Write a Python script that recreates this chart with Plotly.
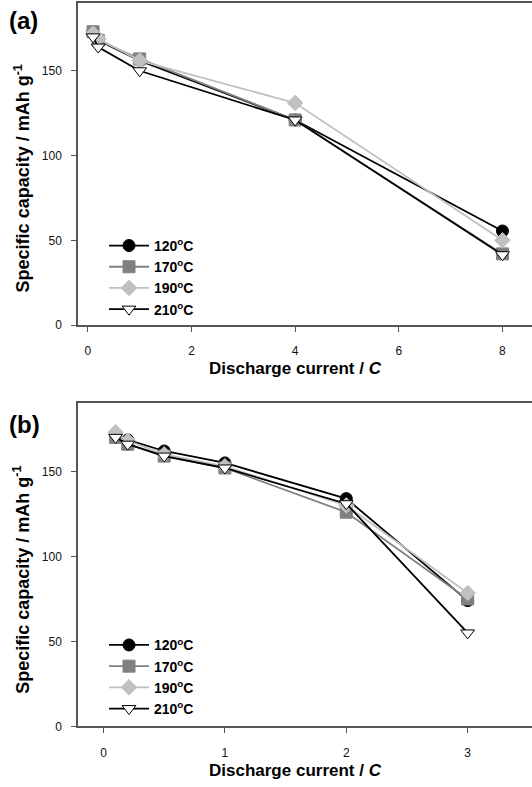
import plotly.graph_objects as go

# ---- data ----
series_names = ["120<sup>o</sup>C", "170<sup>o</sup>C", "190<sup>o</sup>C", "210<sup>o</sup>C"]

x_a = [0.1, 0.2, 1, 4, 8]
a_120 = [173, 168, 156, 121, 55.5]
a_170 = [173, 168, 157, 121, 42]
a_190 = [172, 169, 156, 131, 50]
a_210 = [170, 164, 150, 121, 41.5]

x_b = [0.1, 0.2, 0.5, 1, 2, 3]
b_120 = [172, 168.5, 162, 155, 134, 74]
b_170 = [170, 166, 159, 152, 126, 75]
b_190 = [173, 168, 160, 153, 130, 78.5]
b_210 = [170, 166, 159, 152, 131, 55]

yticks = [0, 50, 100, 150]
xticks_a = [0, 2, 4, 6, 8]
xticks_b = [0, 1, 2, 3]

styles = [
    dict(symbol="circle", mcolor="black", lcolor="black", mline="black"),
    dict(symbol="square", mcolor="#808080", lcolor="#808080", mline="#808080"),
    dict(symbol="diamond", mcolor="#c0c0c0", lcolor="#c0c0c0", mline="#c0c0c0"),
    dict(symbol="triangle-down", mcolor="white", lcolor="black", mline="black"),
]

W, H = 532, 787
def py(p):
    return 1 - p / H

fig = go.Figure()

for i, (ys, st) in enumerate(zip([a_120, a_170, a_190, a_210], styles)):
    fig.add_trace(go.Scatter(
        x=x_a, y=ys, mode="lines+markers", name=series_names[i],
        xaxis="x", yaxis="y", legend="legend",
        line=dict(color=st["lcolor"], width=1.8),
        marker=dict(symbol=st["symbol"], color=st["mcolor"], size=12,
                    line=dict(color=st["mline"], width=1)),
    ))
for i, (ys, st) in enumerate(zip([b_120, b_170, b_190, b_210], styles)):
    fig.add_trace(go.Scatter(
        x=x_b, y=ys, mode="lines+markers", name=series_names[i],
        xaxis="x2", yaxis="y2", legend="legend2",
        line=dict(color=st["lcolor"], width=1.8),
        marker=dict(symbol=st["symbol"], color=st["mcolor"], size=12,
                    line=dict(color=st["mline"], width=1)),
    ))

tickfont = dict(family="Arial, Liberation Sans", size=12, color="#111111")
axcommon = dict(showline=True, linecolor="#555", linewidth=1.5, ticks="outside",
                ticklen=5, tickcolor="#555", tickwidth=1, showgrid=False,
                zeroline=False, tickfont=tickfont)

xdom = [78 / W, 1.0]
legfont = dict(family="Arial, Liberation Sans", size=14, color="black", weight="bold")
fig.update_layout(
    width=W, height=H,
    margin=dict(l=0, r=0, t=0, b=0),
    paper_bgcolor="white", plot_bgcolor="white",
    font=dict(family="Arial, Liberation Sans", color="#111111"),
    xaxis=dict(domain=xdom, range=[-0.19, 8.57], tickvals=xticks_a, anchor="y",
               mirror=True, ticklabelstandoff=9, **axcommon),
    yaxis=dict(domain=[py(328), py(3)], range=[0, 190], tickvals=yticks, anchor="x",
               ticklabelstandoff=7, **axcommon),
    xaxis2=dict(domain=xdom, range=[-0.21, 3.53], tickvals=xticks_b, anchor="y2",
                mirror=True, ticklabelstandoff=9, **axcommon),
    yaxis2=dict(domain=[py(733), py(407)], range=[0, 190], tickvals=yticks, anchor="x2",
                ticklabelstandoff=7, **axcommon),
    legend=dict(x=104 / W, y=py(232), xanchor="left", yanchor="top",
                bgcolor="rgba(0,0,0,0)", tracegroupgap=0, itemwidth=40, font=legfont),
    legend2=dict(x=104 / W, y=py(635), xanchor="left", yanchor="top",
                 bgcolor="rgba(0,0,0,0)", tracegroupgap=0, itemwidth=40, font=legfont),
    showlegend=True,
)

titlefont = dict(family="Arial, Liberation Sans", size=17, color="black", weight="bold")
ytitlefont = dict(family="Arial, Liberation Sans", size=18, color="black", weight="bold")
labfont = dict(family="Arial, Liberation Sans", size=24, color="black", weight="bold")
ytitle = "Specific capacity / mAh g<sup>-1</sup>"
xtitle = "Discharge current / <i>C</i>"
ann = [
    dict(text="(a)", x=7 / W, y=py(21), xanchor="left", yanchor="middle", font=labfont),
    dict(text="(b)", x=7 / W, y=py(428), xanchor="left", yanchor="middle", font=labfont),
    dict(text=ytitle, x=22 / W, y=py(180), textangle=-90, xanchor="center", yanchor="middle", font=ytitlefont),
    dict(text=ytitle, x=22 / W, y=py(585), textangle=-90, xanchor="center", yanchor="middle", font=ytitlefont),
    dict(text=xtitle, x=295 / W, y=py(372), xanchor="center", yanchor="middle", font=titlefont),
    dict(text=xtitle, x=295 / W, y=py(777), xanchor="center", yanchor="middle", font=titlefont),
]
for a in ann:
    a.update(xref="paper", yref="paper", showarrow=False)
fig.update_layout(annotations=ann)

fig.write_html("out.html")
